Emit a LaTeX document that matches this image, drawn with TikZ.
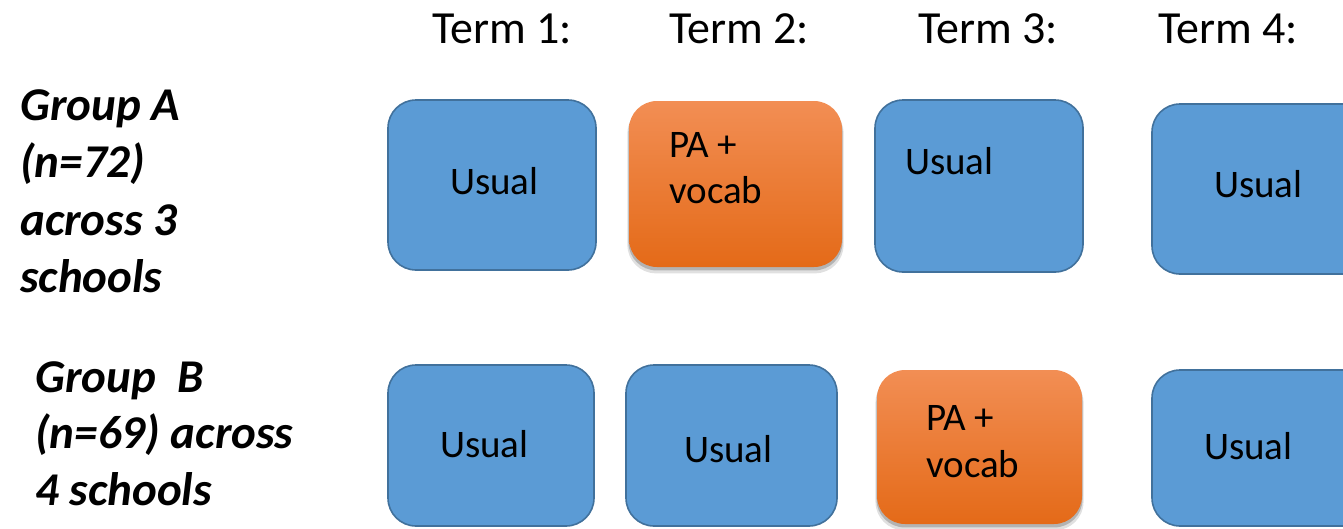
\documentclass[tikz,border=0pt]{standalone}
\usepackage{fontspec}
\setmainfont{Carlito}
\usetikzlibrary{shadows}
\definecolor{boxblue}{RGB}{91,155,213}
\definecolor{boxedge}{RGB}{65,113,156}
\definecolor{orangetop}{RGB}{242,142,84}
\definecolor{orangebot}{RGB}{228,106,24}
\tikzset{
  usualbox/.style={draw=boxedge, line width=1.6pt, fill=boxblue, rounded corners=28pt},
  pabox/.style={rounded corners=28pt, top color=orangetop, bottom color=orangebot,
     general shadow={shadow xshift=0pt, shadow yshift=-5pt, shadow scale=1.015, opacity=0.12, fill=black},
     general shadow={shadow xshift=0pt, shadow yshift=-3pt, shadow scale=1.005, opacity=0.2, fill=black}},
  boxtext/.style={anchor=base west, inner sep=0pt, font=\fontsize{39}{47}\selectfont},
  termtext/.style={anchor=base west, inner sep=0pt, font=\fontsize{46}{55}\selectfont},
  grouptext/.style={anchor=base west, inner sep=0pt, font=\fontsize{47}{57}\selectfont\bfseries\itshape},
}
\begin{document}
\begin{tikzpicture}[x=1pt,y=-1pt]
\useasboundingbox (0,0) rectangle (1343,528);
\clip (0,0) rectangle (1343,528);
% headers
\node[termtext] (t1) at (432,43) {Term 1:};
\node[termtext] (t2) at (669,43) {Term 2:};
\node[termtext] (t3) at (918,43) {Term 3:};
\node[termtext] (t4) at (1158,43) {Term 4:};
% group labels
\node[grouptext] (ga1) at (20,120) {Group A};
\node[grouptext] (ga2) at (20,177) {(n=72)};
\node[grouptext] (ga3) at (20,235) {across 3};
\node[grouptext] (ga4) at (20,292) {schools};
\node[grouptext] (gb1) at (35,392) {Group\ \ B};
\node[grouptext] (gb2) at (35,448) {(n=69) across};
\node[grouptext] (gb3) at (35,505) {4 schools};
% row A boxes
\path[usualbox] (388,100) rectangle (596,270);
\path[pabox] (629,101) rectangle (842,267);
\path[usualbox] (875,100) rectangle (1083,272);
\path[usualbox] (1152,104) rectangle (1370,274);
% row B boxes
\path[usualbox] (388,365) rectangle (594,526);
\path[usualbox] (626,365) rectangle (837,526);
\path[pabox] (877,370) rectangle (1082,524);
\path[usualbox] (1152,370) rectangle (1370,526);
% box texts
\node[boxtext] (ua1) at (450,194) {Usual};
\node[boxtext] (pa2a) at (669,157) {PA +};
\node[boxtext] (pa2b) at (669,203) {vocab};
\node[boxtext] (ua3) at (905,174) {Usual};
\node[boxtext] (ua4) at (1214,197) {Usual};
\node[boxtext] (ub1) at (440,457) {Usual};
\node[boxtext] (ub2) at (684,462) {Usual};
\node[boxtext] (pb3a) at (926,430) {PA +};
\node[boxtext] (pb3b) at (926,477) {vocab};
\node[boxtext] (ub4) at (1204,459) {Usual};
\end{tikzpicture}
\end{document}
